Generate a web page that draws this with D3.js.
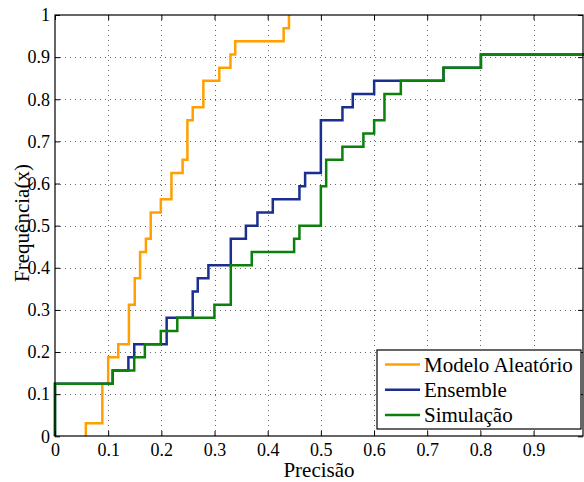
<!DOCTYPE html>
<html>
<head>
<meta charset="utf-8">
<script src="https://cdn.jsdelivr.net/npm/d3@7"></script>
<style>
  body { margin: 0; background: #fff; }
</style>
</head>
<body>
<div id="chart"></div>
<script>
// ECDF steps: [x, count out of 32]
const modeloSteps = [
  [0.058, 0], [0.058, 1], [0.089, 4], [0.1, 6], [0.119, 7], [0.139, 10], [0.15, 12],
  [0.16, 14], [0.171, 15], [0.18, 17], [0.199, 18], [0.219, 20], [0.24, 21],
  [0.249, 24], [0.259, 25], [0.279, 27], [0.309, 28], [0.33, 29], [0.339, 30],
  [0.43, 31], [0.44, 32]
];
const ensembleSteps = [
  [0, 0], [0, 4], [0.1085, 5], [0.138, 6], [0.149, 7], [0.21, 9], [0.259, 11], [0.2685, 12],
  [0.2885, 13], [0.3306, 15], [0.359, 16], [0.3807, 17], [0.4096, 18], [0.4597, 19],
  [0.4704, 20], [0.5, 24], [0.5406, 25], [0.56, 26], [0.6002, 27], [0.7306, 28],
  [0.801, 29], [1, 29]
];
const simulacaoSteps = [
  [0, 0], [0, 4], [0.1085, 5], [0.149, 6], [0.169, 7], [0.199, 8], [0.23, 9], [0.2998, 10],
  [0.3306, 13], [0.37, 14], [0.4497, 15], [0.4597, 16], [0.5, 19], [0.51, 21],
  [0.5405, 22], [0.58, 23], [0.6002, 24], [0.6196, 26], [0.6504, 27], [0.7306, 28],
  [0.801, 29], [1, 29]
];
const total = 32;

const seriesNames = ['Modelo Aleatório', 'Ensemble', 'Simulação'];
const seriesColors = ['#ffa000', '#1a2f8e', '#0b800b'];
const xTicks = [0, 0.1, 0.2, 0.3, 0.4, 0.5, 0.6, 0.7, 0.8, 0.9];
const yTicks = [0, 0.1, 0.2, 0.3, 0.4, 0.5, 0.6, 0.7, 0.8, 0.9, 1];

const serif = '"Liberation Serif", "Times New Roman", Times, serif';
const width = 584;
const height = 482;
const margin = { left: 55, right: 1, top: 15, bottom: 46 };
const x0 = margin.left, x1 = width - margin.right;
const y0 = height - margin.bottom, y1 = margin.top;

const svg = d3.select('#chart').append('svg')
  .attr('width', width)
  .attr('height', height);

const x = d3.scaleLinear().domain([0, 0.993]).range([x0, x1]);
const y = d3.scaleLinear().domain([0, 1]).range([y0 + 0.3, y1]);

// grid
const grid = svg.append('g').attr('stroke', '#666').attr('stroke-width', 1)
  .attr('stroke-dasharray', '1,4');
grid.selectAll('.gx').data(xTicks.slice(1)).enter().append('line')
  .attr('x1', d => Math.round(x(d)) + 0.5).attr('x2', d => Math.round(x(d)) + 0.5)
  .attr('y1', y0).attr('y2', y1);
grid.selectAll('.gy').data(yTicks.slice(1, -1)).enter().append('line')
  .attr('y1', d => Math.round(y(d)) + 0.5).attr('y2', d => Math.round(y(d)) + 0.5)
  .attr('x1', x0).attr('x2', x1);

// curves
const plot = svg.append('g');
const line = d3.line()
  .x(d => x(d[0]))
  .y(d => y(d[1] / total))
  .curve(d3.curveStepAfter);

[modeloSteps, ensembleSteps, simulacaoSteps].forEach((data, i) => {
  plot.append('path')
    .datum(data)
    .attr('fill', 'none')
    .attr('stroke', seriesColors[i])
    .attr('stroke-width', 2.5)
    .attr('d', line);
});

// axes (MATLAB box with inward ticks)
const tick = 5;
svg.append('g').attr('transform', `translate(0,${y0})`)
  .call(d3.axisBottom(x).tickValues(xTicks).tickSize(-tick).tickPadding(7).tickFormat(d3.format('')))
  .call(g => g.select('.domain').remove())
  .call(g => g.selectAll('text').style('font-size', '18px').style('font-family', serif).attr('fill', '#000'));
svg.append('g').attr('transform', `translate(0,${y1})`)
  .call(d3.axisTop(x).tickValues(xTicks).tickSize(-tick).tickFormat(''))
  .call(g => g.select('.domain').remove());
svg.append('g').attr('transform', `translate(${x0},0)`)
  .call(d3.axisLeft(y).tickValues(yTicks).tickSize(-tick).tickPadding(5).tickFormat(d3.format('')))
  .call(g => g.select('.domain').remove())
  .call(g => g.selectAll('text').style('font-size', '18px').style('font-family', serif).attr('fill', '#000'));
svg.append('g').attr('transform', `translate(${x1},0)`)
  .call(d3.axisRight(y).tickValues(yTicks).tickSize(-tick).tickFormat(''))
  .call(g => g.select('.domain').remove());

svg.append('rect')
  .attr('x', x0).attr('y', y1)
  .attr('width', x1 - x0).attr('height', y0 - y1)
  .attr('fill', 'none').attr('stroke', '#000').attr('stroke-width', 1.2);

// labels
svg.append('text')
  .attr('x', (x0 + x1) / 2).attr('y', 477)
  .attr('text-anchor', 'middle')
  .style('font-size', '21px').style('font-family', serif)
  .text('Precisão');
svg.append('text')
  .attr('transform', 'translate(29,223) rotate(-90)')
  .attr('text-anchor', 'middle')
  .style('font-size', '21px').style('font-family', serif)
  .text('Frequência(x)');

// legend
const legend = svg.append('g').attr('transform', 'translate(377,350)');
legend.append('rect')
  .attr('width', 204).attr('height', 79)
  .attr('fill', '#fff').attr('stroke', '#000').attr('stroke-width', 1.2);
const items = legend.selectAll('.item').data(seriesNames).enter().append('g')
  .attr('transform', (_, i) => `translate(0,${14.5 + i * 25.3})`);
items.append('line')
  .attr('x1', 8).attr('x2', 43)
  .attr('stroke', (_, i) => seriesColors[i]).attr('stroke-width', 2.5);
items.append('text')
  .attr('x', 47).attr('y', 7.3)
  .style('font-size', '21px').style('font-family', serif)
  .text(d => d);
</script>
</body>
</html>
